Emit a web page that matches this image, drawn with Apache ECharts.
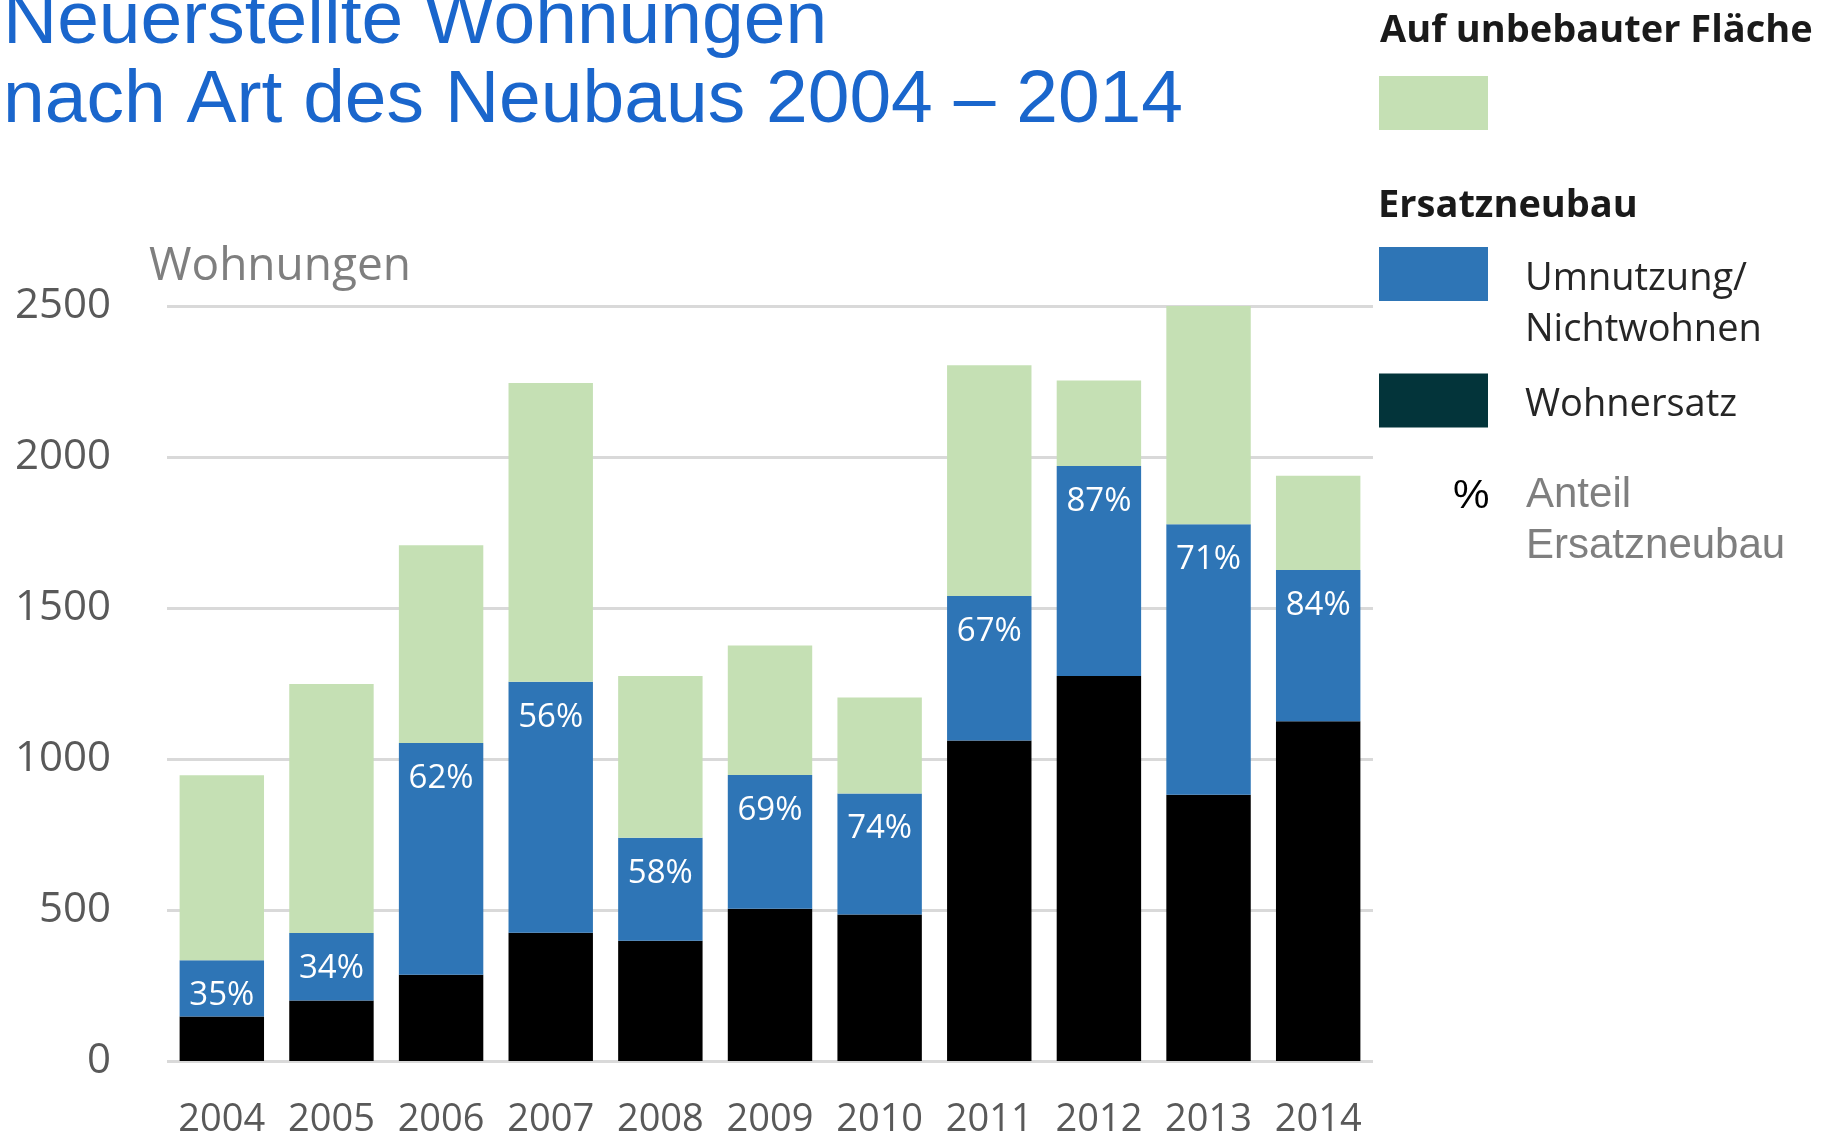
<!DOCTYPE html>
<html lang="de">
<head>
<meta charset="utf-8">
<title>Neuerstellte Wohnungen nach Art des Neubaus 2004 – 2014</title>
<script src="https://cdn.jsdelivr.net/npm/echarts@6/dist/echarts.min.js"></script>
<style>
  html, body { margin: 0; padding: 0; background: #fff; }
  #chart { width: 1825px; height: 1135px; }
</style>
</head>
<body>
<div id="chart"></div>
<script>
// Jahre und Wohnungen je Neubauart (gestapelt)
const years = ['2004', '2005', '2006', '2007', '2008', '2009', '2010', '2011', '2012', '2013', '2014'];
const wohnersatz = [147, 200, 286, 425, 398, 504, 485, 1061, 1275, 882, 1125];
const umnutzung = [187, 224, 767, 831, 341, 443, 401, 479, 695, 895, 501];
const unbebaut = [612, 824, 655, 989, 536, 429, 318, 764, 283, 723, 312];
// Anteil Ersatzneubau in %
const anteil = [35, 34, 62, 56, 58, 69, 74, 67, 87, 71, 84];
const yTicks = [0, 500, 1000, 1500, 2000, 2500];

const C_GREEN = '#c5e0b4';
const C_BLUE = '#2e75b6';
const C_BLACK = '#000000';
const C_LEGEND_DARK = '#03343a';
const FONT = "'Open Sans', 'Noto Sans', sans-serif";
const FONT_ARIAL = "'Liberation Sans', Arial, sans-serif";

const legendText = { fontFamily: FONT, fontSize: 38, lineHeight: 51, color: '#262626' };

const chart = echarts.init(document.getElementById('chart'), null, { renderer: 'canvas' });

chart.setOption({
  animation: false,
  backgroundColor: '#ffffff',
  title: [
    {
      text: 'Neuerstellte Wohnungen\nnach Art des Neubaus 2004 – 2014',
      left: 3,
      top: -17,
      padding: 0,
      textStyle: { fontFamily: FONT_ARIAL, fontSize: 75, lineHeight: 79, fontWeight: 'normal', color: '#1a66cc' },
    },
    {
      text: 'Wohnungen',
      left: 149,
      top: 243,
      padding: 0,
      textStyle: { fontFamily: FONT, fontSize: 46, lineHeight: 48, fontWeight: 'normal', color: '#7f7f7f' },
    },
    {
      text: 'Auf unbebauter Fläche',
      left: 1380,
      top: 11,
      padding: 0,
      textStyle: { fontFamily: FONT, fontSize: 38, lineHeight: 40, fontWeight: 'bold', color: '#1a1a1a' },
    },
    {
      text: 'Ersatzneubau',
      left: 1378,
      top: 186,
      padding: 0,
      textStyle: { fontFamily: FONT, fontSize: 38, lineHeight: 40, fontWeight: 'bold', color: '#1a1a1a' },
    },
    {
      text: '%',
      left: 1453,
      top: 475,
      padding: 0,
      textStyle: { fontFamily: FONT_ARIAL, fontSize: 41, lineHeight: 44, fontWeight: 'normal', color: '#000000' },
    },
    {
      text: 'Anteil\nErsatzneubau',
      left: 1526,
      top: 470,
      padding: 0,
      textStyle: { fontFamily: FONT_ARIAL, fontSize: 42, lineHeight: 51, fontWeight: 'normal', color: '#7f7f7f' },
    },
  ],
  legend: [
    {
      data: ['Auf unbebauter Fläche'],
      left: 1379,
      top: 76,
      padding: 0,
      icon: 'rect',
      itemWidth: 109,
      itemHeight: 54,
      selectedMode: false,
      formatter: () => '',
    },
    {
      data: ['Umnutzung/Nichtwohnen'],
      left: 1379,
      top: 218,
      padding: 0,
      icon: 'rect',
      itemWidth: 109,
      itemHeight: 54,
      selectedMode: false,
      formatter: () => '{g|}\n{t|Umnutzung/}\n{t|Nichtwohnen}',
      textStyle: {
        padding: [0, 0, 0, 32],
        rich: { g: { lineHeight: 61, fontSize: 10 }, t: legendText },
      },
    },
    {
      data: [{ name: 'Wohnersatz', itemStyle: { color: C_LEGEND_DARK } }],
      left: 1379,
      top: 371,
      padding: 0,
      icon: 'rect',
      itemWidth: 109,
      itemHeight: 54,
      selectedMode: false,
      formatter: (name) => '{g|}\n{t|' + name + '}',
      textStyle: {
        padding: [0, 0, 0, 32],
        rich: { g: { lineHeight: 10, fontSize: 8 }, t: legendText },
      },
    },
  ],
  grid: {
    left: 167,
    right: 452,
    top: 306,
    bottom: 74,
    containLabel: false,
    outerBoundsMode: 'none',
  },
  xAxis: {
    type: 'category',
    data: years,
    axisLine: { show: false },
    axisTick: { show: false },
    axisLabel: {
      interval: 0,
      fontFamily: FONT,
      fontSize: 38,
      lineHeight: 38,
      color: '#595959',
      margin: 40,
    },
  },
  yAxis: {
    type: 'value',
    min: yTicks[0],
    max: yTicks[yTicks.length - 1],
    interval: yTicks[1] - yTicks[0],
    axisLine: { show: false },
    axisTick: { show: false },
    axisLabel: {
      fontFamily: FONT,
      fontSize: 42,
      color: '#595959',
      margin: 56,
      formatter: (v) => String(v),
    },
    splitLine: { lineStyle: { color: '#d9d9d9', width: 3 } },
  },
  series: [
    {
      name: 'Wohnersatz',
      type: 'bar',
      stack: 'total',
      data: wohnersatz,
      barWidth: '77%',
      itemStyle: { color: C_BLACK },
    },
    {
      name: 'Umnutzung/Nichtwohnen',
      type: 'bar',
      stack: 'total',
      data: umnutzung,
      barWidth: '77%',
      itemStyle: { color: C_BLUE },
      label: {
        show: true,
        position: 'insideTop',
        distance: 19,
        formatter: (p) => anteil[p.dataIndex] + '%',
        fontFamily: FONT,
        fontSize: 33,
        lineHeight: 33,
        color: '#ffffff',
      },
    },
    {
      name: 'Auf unbebauter Fläche',
      type: 'bar',
      stack: 'total',
      data: unbebaut,
      barWidth: '77%',
      itemStyle: { color: C_GREEN },
    },
  ],
});

window.addEventListener('resize', () => chart.resize());
</script>
</body>
</html>
